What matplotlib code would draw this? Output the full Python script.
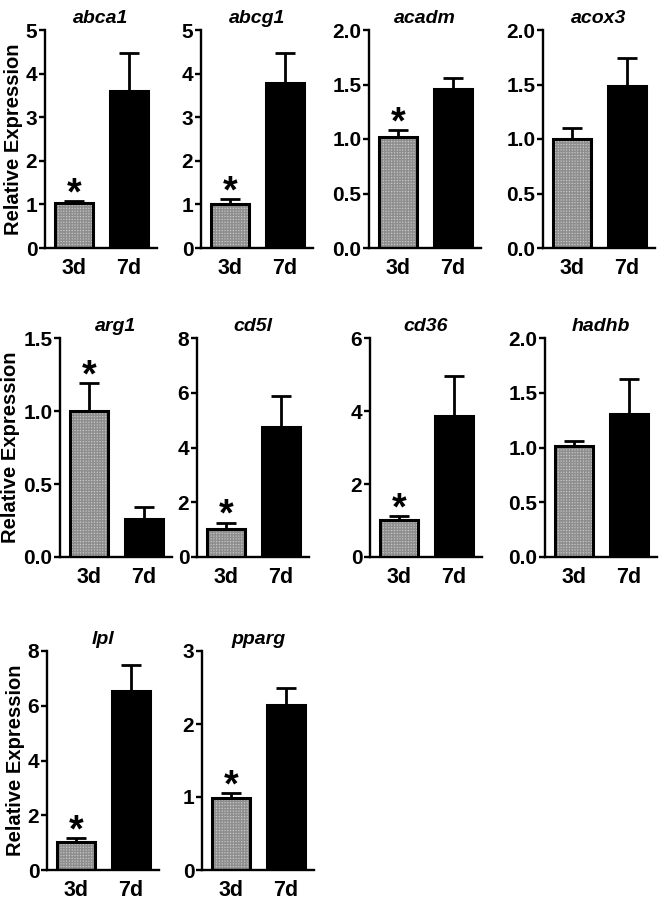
import matplotlib
matplotlib.use("Agg")
import matplotlib.pyplot as plt

plt.rcParams["font.family"] = ["Liberation Sans", "DejaVu Sans"]
plt.rcParams["font.weight"] = "bold"
plt.rcParams["hatch.linewidth"] = 1.0

# Gene panels, in reading order
genes = ["abca1", "abcg1", "acadm", "acox3",
         "arg1", "cd5l", "cd36", "hadhb",
         "lpl", "pparg"]
groups = ["3d", "7d"]

# mean and SEM (upper error only) for 3d and 7d
means_3d = [1.03, 1.01, 1.02, 1.00, 1.00, 1.01, 1.02, 1.01, 1.03, 0.99]
errs_3d = [0.05, 0.11, 0.06, 0.10, 0.19, 0.24, 0.10, 0.05, 0.13, 0.06]
means_7d = [3.61, 3.78, 1.46, 1.49, 0.26, 4.74, 3.86, 1.31, 6.53, 2.26]
errs_7d = [0.86, 0.70, 0.10, 0.25, 0.08, 1.14, 1.10, 0.32, 0.97, 0.23]
signif = [True, True, True, False, True, True, True, False, True, True]

y_max = [5, 5, 2.0, 2.0, 1.5, 8, 6, 2.0, 8, 3]
y_ticks = [[0, 1, 2, 3, 4, 5], [0, 1, 2, 3, 4, 5],
           [0, 0.5, 1.0, 1.5, 2.0], [0, 0.5, 1.0, 1.5, 2.0],
           [0, 0.5, 1.0, 1.5], [0, 2, 4, 6, 8], [0, 2, 4, 6],
           [0, 0.5, 1.0, 1.5, 2.0], [0, 2, 4, 6, 8], [0, 1, 2, 3]]
one_decimal = [False, False, True, True, True, False, False, True, False, False]

W, H = 663, 900
# axes boxes in pixels: left, top, bottom
boxes = [(45, 30, 248), (201, 30, 248), (369, 30, 248), (543, 30, 248),
         (60, 338, 557), (197, 338, 557), (370, 338, 557), (545, 338, 557),
         (47, 651, 870), (202, 651, 870)]
AX_W = 112

fig = plt.figure(figsize=(W / 100, H / 100), dpi=100)

for i, gene in enumerate(genes):
    left, top, bottom = boxes[i]
    ax = fig.add_axes([left / W, 1 - bottom / H, AX_W / W, (bottom - top) / H])

    xs = [0, 1]
    vals = [means_3d[i], means_7d[i]]
    errs = [errs_3d[i], errs_7d[i]]

    # error bars first so the bar covers the lower half
    ax.errorbar(xs, vals, yerr=[[0, 0], errs], fmt="none", ecolor="black",
                elinewidth=2, capsize=7, capthick=2, zorder=1)
    # checkered grey fill for 3d
    ax.bar(0, vals[0], width=0.69, color="#c4c4c4", edgecolor="#8e8e8e",
           hatch="++++++", linewidth=0, zorder=2)
    ax.bar(0, vals[0], width=0.69, fill=False, edgecolor="black",
           linewidth=2.2, zorder=3)
    ax.bar(1, vals[1], width=0.69, color="black", edgecolor="black",
           linewidth=2.2, zorder=3)

    if signif[i]:
        ax.annotate("*", (0, vals[0] + errs[0]), xytext=(0, -8),
                    textcoords="offset points", ha="center", va="bottom",
                    fontsize=27, fontweight="bold")

    ax.set_xlim(-0.53, 1.51)
    ax.set_ylim(0, y_max[i])
    ax.set_yticks(y_ticks[i])
    if one_decimal[i]:
        ax.set_yticklabels([f"{t:.1f}" for t in y_ticks[i]])
    else:
        ax.set_yticklabels([f"{t:g}" for t in y_ticks[i]])
    ax.set_xticks(xs)
    ax.set_xticklabels(groups)

    ax.spines["top"].set_visible(False)
    ax.spines["right"].set_visible(False)
    ax.spines["left"].set_linewidth(1.7)
    ax.spines["bottom"].set_linewidth(1.7)
    ax.tick_params(axis="y", length=4, width=1.7, pad=1.5, labelsize=15)
    ax.tick_params(axis="x", length=0, pad=7.5, labelsize=15.5)
    for lab in ax.get_xticklabels() + ax.get_yticklabels():
        lab.set_fontweight("bold")

    ax.set_title(gene, fontsize=14, fontweight="bold", style="italic", pad=5)
    if i % 4 == 0:
        ax.set_ylabel("Relative Expression", fontsize=14.5, fontweight="bold",
                      labelpad=2)

fig.savefig("out.png", dpi=100)
